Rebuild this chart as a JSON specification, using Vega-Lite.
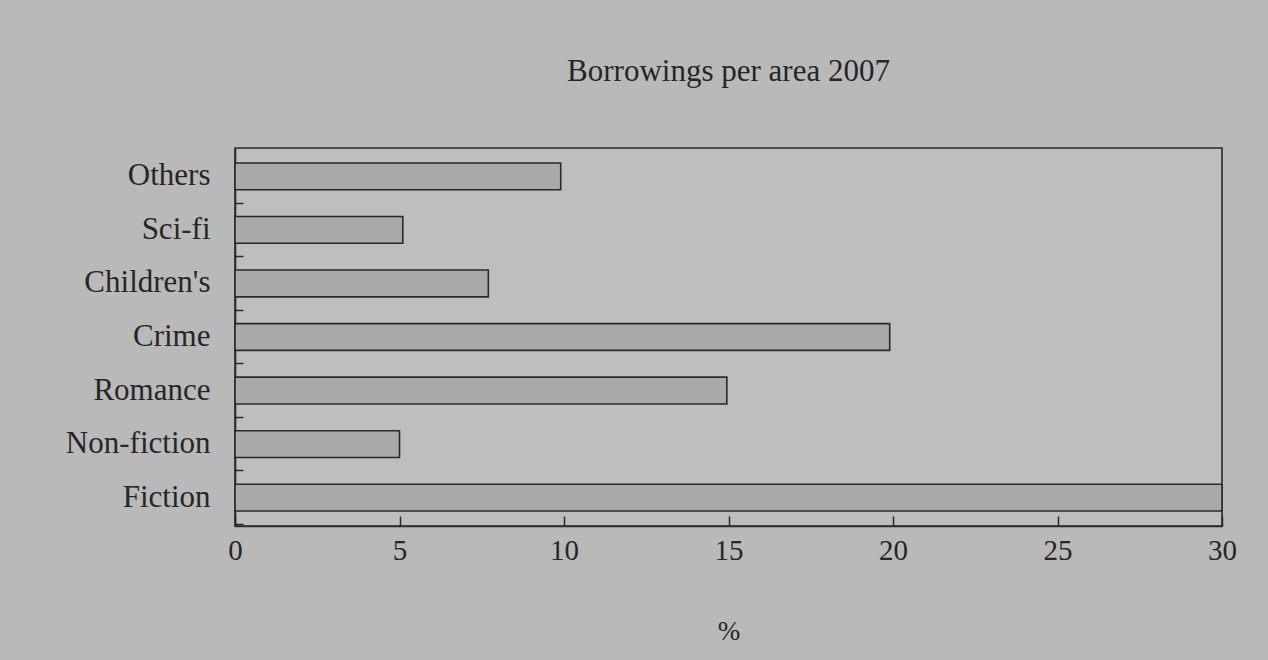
{
  "$schema": "https://vega.github.io/schema/vega-lite/v6.json",
  "autosize": "none",
  "width": 987,
  "height": 378,
  "padding": {"left": 235, "top": 148, "right": 46, "bottom": 134},
  "background": "#b9b9b9",
  "title": {
    "text": "Borrowings per area 2007",
    "font": "Liberation Serif",
    "fontSize": 31,
    "fontWeight": "normal",
    "color": "#262626",
    "anchor": "middle",
    "offset": 60
  },
  "config": {
    "view": {"stroke": "#2a2a2a", "strokeWidth": 1.6, "fill": "#bebebe"},
    "axis": {
      "labelFont": "Liberation Serif",
      "titleFont": "Liberation Serif",
      "labelColor": "#262626",
      "titleColor": "#262626",
      "domainColor": "#2a2a2a",
      "tickColor": "#2a2a2a",
      "grid": false
    }
  },
  "data": {
    "values": [
      {"area": "Others", "pct": 9.9},
      {"area": "Sci-fi", "pct": 5.1},
      {"area": "Children's", "pct": 7.7},
      {"area": "Crime", "pct": 19.9},
      {"area": "Romance", "pct": 14.95},
      {"area": "Non-fiction", "pct": 5.0},
      {"area": "Fiction", "pct": 30}
    ]
  },
  "mark": {"type": "bar", "fill": "#a9a9a9", "stroke": "#2a2a2a", "strokeWidth": 1.6},
  "encoding": {
    "y": {
      "field": "area",
      "type": "nominal",
      "sort": ["Others", "Sci-fi", "Children's", "Crime", "Romance", "Non-fiction", "Fiction"],
      "scale": {"paddingInner": 0.5, "paddingOuter": 0.28},
      "axis": {
        "title": null,
        "labelFontSize": 31,
        "labelPadding": 33,
        "tickSize": -8,
        "tickWidth": 1.5,
        "bandPosition": 1.5,
        "domainWidth": 1.6
      }
    },
    "x": {
      "field": "pct",
      "type": "quantitative",
      "scale": {"domain": [0, 30], "nice": false},
      "axis": {
        "title": "%",
        "titleFontSize": 27,
        "titleFontWeight": "normal",
        "titlePadding": 53,
        "labelFontSize": 29,
        "labelPadding": 20,
        "labelFlush": false,
        "tickSize": -10,
        "tickWidth": 1.5,
        "values": [0, 5, 10, 15, 20, 25, 30],
        "domainWidth": 1.6
      }
    }
  }
}
